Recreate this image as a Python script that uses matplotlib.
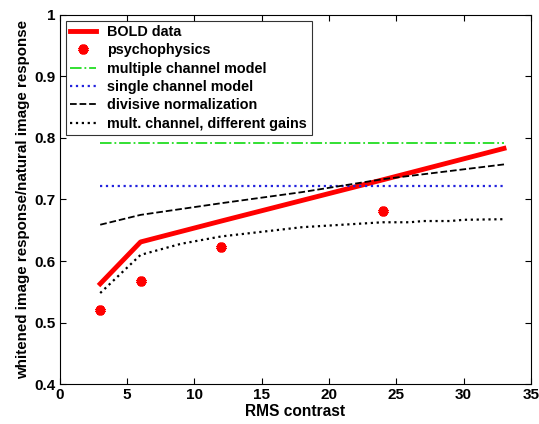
import matplotlib
matplotlib.use("Agg")
import matplotlib.pyplot as plt

fam = ['Liberation Sans', 'DejaVu Sans']
plt.rcParams['font.family'] = fam
plt.rcParams['font.weight'] = 'bold'

# data
bold_x = [3, 6, 12, 24, 33]
bold_y = [0.563, 0.631, 0.665, 0.732, 0.783]

psy_x = [3, 6, 12, 24]
psy_y = [0.520, 0.568, 0.623, 0.681]

multi_x = [3, 33]
multi_y = [0.791, 0.791]

single_x = [3, 33]
single_y = [0.722, 0.722]

divnorm_x = [3, 6, 12, 18, 24, 33]
divnorm_y = [0.659, 0.675, 0.694, 0.712, 0.733, 0.757]

gains_x = [3, 6, 9, 12, 18, 24, 26, 27, 29, 30, 33]
gains_y = [0.548, 0.610, 0.628, 0.640, 0.655, 0.663, 0.663, 0.665, 0.665, 0.667, 0.668]

fig = plt.figure(figsize=(5.39, 4.24), dpi=100)
ax = fig.add_axes([0.111, 0.094, 0.874, 0.871])

ax.plot(bold_x, bold_y, color='red', lw=3.5, label='BOLD data')
ax.plot(psy_x, psy_y, ls='none', marker=(6, 2, 0), ms=7, mew=3,
        color='red', label='psychophysics')
ax.plot(multi_x, multi_y, color='#22dd22', ls='-.', lw=1.3, label='multiple channel model')
ax.plot(single_x, single_y, color='#2222dd', ls=':', lw=1.6, label='single channel model')
ax.plot(divnorm_x, divnorm_y, color='black', ls='--', lw=1.3, label='divisive normalization')
ax.plot(gains_x, gains_y, color='black', ls=':', lw=1.6, label='mult. channel, different gains')

ax.set_xlim(0, 35)
ax.set_ylim(0.4, 1)
ax.set_xticks(range(0, 36, 5))
ax.set_yticks([0.4, 0.5, 0.6, 0.7, 0.8, 0.9, 1.0])
ax.set_yticklabels(['0.4', '0.5', '0.6', '0.7', '0.8', '0.9', '1'])
ax.tick_params(direction='in', top=True, right=True, labelsize=11, length=4, pad=3)
for lab in ax.get_xticklabels() + ax.get_yticklabels():
    lab.set_fontweight('bold')
for s in ax.spines.values():
    s.set_linewidth(0.8)

ax.set_xlabel('RMS contrast', fontsize=11.2, fontweight='bold', labelpad=1)
ax.set_ylabel('whitened image response/natural image response', fontsize=10.9,
              fontweight='bold', labelpad=3)

leg = ax.legend(loc='upper left', prop={'family': fam, 'weight': 'bold', 'size': 10.4},
                frameon=True, fancybox=False,
                edgecolor='black', borderaxespad=0.4, handlelength=1.8,
                labelspacing=0.3, borderpad=0.3, handletextpad=0.8)
leg.get_frame().set_linewidth(0.8)

fig.savefig('out.png', dpi=100)
